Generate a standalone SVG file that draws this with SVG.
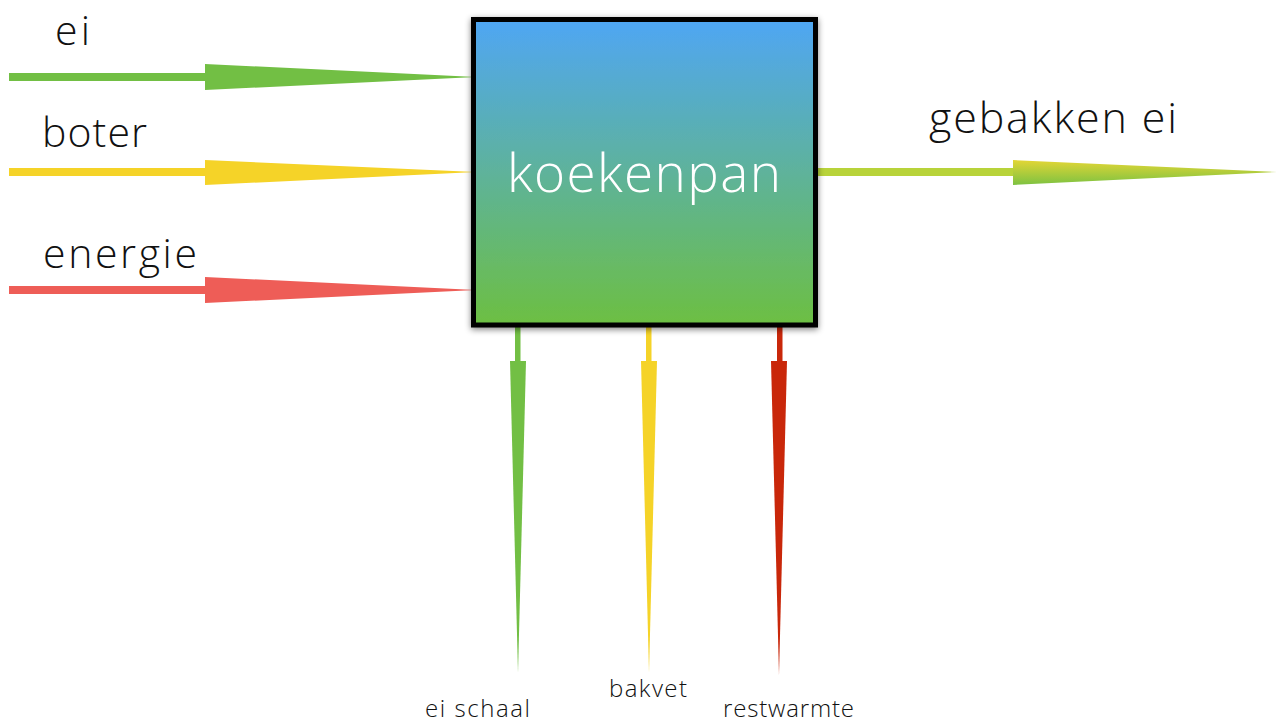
<svg xmlns="http://www.w3.org/2000/svg" width="1277" height="722" viewBox="0 0 1277 722">
<defs>
<linearGradient id="boxg" x1="0" y1="0" x2="0" y2="1">
<stop offset="0" stop-color="#4FA6F4"/>
<stop offset="1" stop-color="#6DBF42"/>
</linearGradient>
<linearGradient id="outg" x1="0" y1="0" x2="0" y2="1">
<stop offset="0" stop-color="#E3D635"/>
<stop offset="1" stop-color="#7DC242"/>
</linearGradient>
<filter id="sh" x="-10%" y="-10%" width="120%" height="120%">
<feGaussianBlur in="SourceAlpha" stdDeviation="3"/>
<feOffset dx="0" dy="2" result="b"/>
<feComponentTransfer><feFuncA type="linear" slope="0.5"/></feComponentTransfer>
<feMerge><feMergeNode/><feMergeNode in="SourceGraphic"/></feMerge>
</filter>
<style>
.lbl{font-family:"Open Sans",Roboto,"Liberation Sans",sans-serif;font-weight:300;fill:#111}
.big{font-size:41px}
.sm{font-size:24px}
</style>
</defs>
<rect width="1277" height="722" fill="#fff"/>
<g id="connectors">
<g id="in-ei" fill="#72BF44">
<rect x="9" y="73" width="197" height="8"/>
<polygon points="205,64 476,77 205,90"/>
</g>
<g id="in-boter" fill="#F5D328">
<rect x="9" y="168" width="197" height="8"/>
<polygon points="205,160 476,172 205,185"/>
</g>
<g id="in-energie" fill="#EE5D57">
<rect x="9" y="286" width="197" height="8"/>
<polygon points="205,277 476,290 205,303"/>
</g>
<g id="out-gebakken">
<rect x="818" y="168" width="197" height="8" fill="#B8D33A"/>
<polygon points="1013,160 1277,172 1013,185" fill="url(#outg)"/>
</g>
<g id="out-schaal" fill="#72BF44">
<rect x="515" y="325" width="5.5" height="37"/>
<polygon points="510,361 526,361 518,673"/>
</g>
<g id="out-bakvet" fill="#F5D328">
<rect x="646" y="325" width="5.5" height="37"/>
<polygon points="641,361 657,361 649,673"/>
</g>
<g id="out-rest" fill="#C9270A">
<rect x="777" y="325" width="5.5" height="37"/>
<polygon points="771,361 787,361 779,675"/>
</g>
</g>
<g id="node-koekenpan">
<rect x="473.5" y="19.5" width="342" height="305.5" fill="url(#boxg)" stroke="#000" stroke-width="5" filter="url(#sh)"/>
<text x="507" y="192" textLength="274" lengthAdjust="spacing" font-family="'Open Sans',Roboto,'Liberation Sans',sans-serif" font-weight="300" font-size="53" fill="#fff">koekenpan</text>
</g>
<g id="labels">
<text class="lbl big" x="55" y="45" textLength="35" lengthAdjust="spacing">ei</text>
<text class="lbl big" x="42" y="147" textLength="105" lengthAdjust="spacing">boter</text>
<text class="lbl big" x="43" y="268" textLength="154" lengthAdjust="spacing">energie</text>
<text class="lbl" x="929" y="133" font-size="43" textLength="248" lengthAdjust="spacing">gebakken ei</text>
<text class="lbl sm" x="425" y="717" textLength="105" lengthAdjust="spacing">ei schaal</text>
<text class="lbl sm" x="609" y="697" textLength="78" lengthAdjust="spacing">bakvet</text>
<text class="lbl sm" x="723" y="717" textLength="131" lengthAdjust="spacing">restwarmte</text>
</g>
</svg>
